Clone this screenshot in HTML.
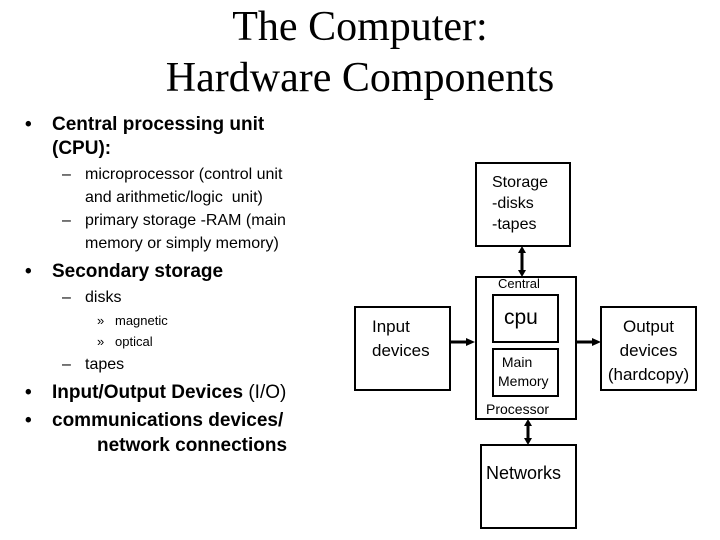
<!DOCTYPE html>
<html><head><style>
body{margin:0;width:720px;height:540px;background:#fff;position:relative;overflow:hidden;font-family:"Liberation Sans",sans-serif;color:#000}
.t{position:absolute;white-space:nowrap;line-height:1}
.title{font-family:"Liberation Serif",serif;font-size:42px;width:720px;text-align:center;left:0}
.b{font-size:19px;font-weight:bold}
.s{font-size:16px}
.x{font-size:13px}
.box{position:absolute;border:2px solid #000;box-sizing:border-box}
</style></head><body>
<div class="t title" style="top:6px">The Computer:</div>
<div class="t title" style="top:57px">Hardware Components</div>

<div class="t b" style="left:25px;top:115px">•</div>
<div class="t b" style="left:52px;top:115px">Central processing unit</div>
<div class="t b" style="left:52px;top:139px">(CPU):</div>
<div class="t s" style="left:62px;top:167px">–</div>
<div class="t s" style="left:85px;top:167px">microprocessor (control unit</div>
<div class="t s" style="left:85px;top:190px">and arithmetic/logic&nbsp; unit)</div>
<div class="t s" style="left:62px;top:213px">–</div>
<div class="t s" style="left:85px;top:213px">primary storage -RAM (main</div>
<div class="t s" style="left:85px;top:236px">memory or simply memory)</div>
<div class="t b" style="left:25px;top:262px">•</div>
<div class="t b" style="left:52px;top:262px">Secondary storage</div>
<div class="t s" style="left:62px;top:290px">–</div>
<div class="t s" style="left:85px;top:290px">disks</div>
<div class="t x" style="left:97px;top:314px">»</div>
<div class="t x" style="left:115px;top:314px">magnetic</div>
<div class="t x" style="left:97px;top:335px">»</div>
<div class="t x" style="left:115px;top:335px">optical</div>
<div class="t s" style="left:62px;top:357px">–</div>
<div class="t s" style="left:85px;top:357px">tapes</div>
<div class="t b" style="left:25px;top:383px">•</div>
<div class="t b" style="left:52px;top:383px">Input/Output Devices <span style="font-weight:normal">(I/O)</span></div>
<div class="t b" style="left:25px;top:411px">•</div>
<div class="t b" style="left:52px;top:411px">communications devices/</div>
<div class="t b" style="left:97px;top:436px">network connections</div>

<div class="box" style="left:475px;top:162px;width:96px;height:85px"></div>
<div class="t s" style="left:492px;top:172px;line-height:21px">Storage<br>-disks<br>-tapes</div>

<div class="box" style="left:475px;top:276px;width:102px;height:144px"></div>
<div class="t" style="left:498px;top:277px;font-size:13px">Central</div>
<div class="box" style="left:492px;top:294px;width:67px;height:49px"></div>
<div class="t" style="left:504px;top:307px;font-size:21px">cpu</div>
<div class="box" style="left:492px;top:348px;width:67px;height:49px"></div>
<div class="t" style="left:498px;top:353px;font-size:14px;line-height:19px">&nbsp;Main<br>Memory</div>
<div class="t" style="left:486px;top:402px;font-size:14px">Processor</div>

<div class="box" style="left:354px;top:306px;width:97px;height:85px"></div>
<div class="t" style="left:372px;top:315px;font-size:17px;line-height:24px">Input<br>devices</div>

<div class="box" style="left:600px;top:306px;width:97px;height:85px"></div>
<div class="t" style="left:600px;top:315px;width:97px;text-align:center;font-size:17px;line-height:24px">Output<br>devices<br>(hardcopy)</div>

<div class="box" style="left:480px;top:444px;width:97px;height:85px"></div>
<div class="t" style="left:486px;top:464px;font-size:18px">Networks</div>

<svg width="720" height="540" style="position:absolute;left:0;top:0">
<g stroke="#000" stroke-width="3" fill="#000">
<line x1="522" y1="251" x2="522" y2="272"/>
<line x1="528" y1="424" x2="528" y2="440"/>
<line x1="451" y1="342" x2="468" y2="342"/>
<line x1="577" y1="342" x2="594" y2="342"/>
</g>
<g fill="#000">
<polygon points="518,253 526,253 522,246"/>
<polygon points="518,270 526,270 522,277"/>
<polygon points="524,426 532,426 528,419"/>
<polygon points="524,438 532,438 528,445"/>
<polygon points="466,338 466,346 475,342"/>
<polygon points="592,338 592,346 601,342"/>
</g>
</svg>
</body></html>
